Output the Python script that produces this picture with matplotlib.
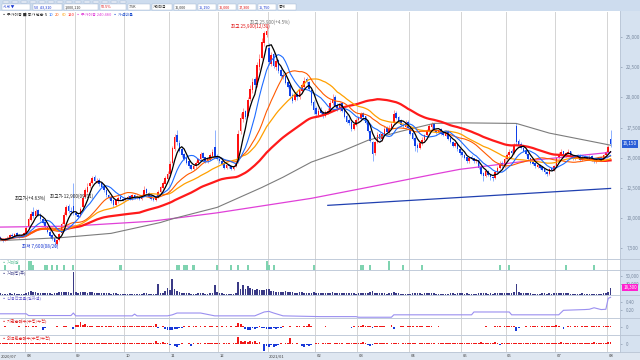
import matplotlib
matplotlib.use('Agg')
import matplotlib.pyplot as plt
from matplotlib.patches import Rectangle
import numpy as np
import pandas as pd

plt.rcParams['font.family'] = ['Noto Sans CJK KR', 'DejaVu Sans']

# ---------------- data ----------------
month_start = [11, 32, 53, 72, 93, 114, 134, 152, 174, 196, 215, 236, 258]
month_labels = ['08', '09', '10', '11', '12', '2021/01', '02', '03', '04', '05', '06', '07', '08']
first_label = '2020/07'

opens = [8450, 8300, 8150, 8250, 8400, 8650, 8550, 8750, 8650, 8500, 8600,
 8800, 9250, 9850, 10500, 10200, 10650, 10300, 9950, 9650, 9350,
 8900, 8600, 8350, 7900, 8200, 8750, 9500, 10300, 11000, 10600, 11000,
 10400, 10300, 10150, 10900, 11800, 12200, 12700, 12900, 13400, 13000, 13200, 12900, 12700, 12300, 11900, 11800, 11500, 11100, 11400, 11750, 11600,
 11500, 11650, 11850, 11600, 11950, 11700, 11850, 11600, 11900, 12400, 12100, 11850, 11650, 11500, 11700, 12150, 12500, 12850, 13250,
 13700, 14600, 15700, 16900, 16200, 15700, 15300, 15000, 14700, 14400, 14100, 14300, 14600, 14900, 15400, 15050, 14700, 14850, 15150, 15900, 15100,
 14900, 14750, 14550, 14200, 14450, 14350, 14100, 14300, 14700, 17200, 18200, 18900, 18500, 19900, 20600, 21500, 21000, 22500, 23300, 24500, 25200,
 24100, 22800, 23600, 22500, 23100, 22300, 21900, 21800, 21300, 21000, 20200, 19800, 20300, 20000, 20500, 20900, 21500, 21300, 20600, 19600,
 19100, 18550, 19000, 18750, 18450, 18800, 18900, 19500, 20000, 19350, 19050, 19500, 18950, 18450, 18100, 17950, 17400, 17750,
 18100, 18250, 18700, 18450, 17950, 17200, 16300, 15400, 16300, 16950, 16550, 17000, 17450, 17100, 17500, 17900, 18700, 18350, 18050, 17750, 17550, 17950,
 17450, 17050, 16650, 16050, 15800, 16200, 16500, 16900, 17200, 17550, 17850, 17300, 17100, 17350, 17050, 16850, 17150, 16650, 16350, 15950, 16250, 15750,
 15450, 15250, 15050, 14700, 15050, 14950, 14700, 14850, 14250, 13750, 13500, 13950, 13650, 13450, 13300, 13800, 14200, 14550, 14300,
 14900, 15200, 15550, 15400, 17600, 16400, 16150, 15850, 15650, 15350, 14950, 14650, 14550, 14250, 14450, 14250, 14050, 13850, 13700, 14150, 14000,
 14350, 15050, 15300, 15550, 15200, 15400, 15550, 15150, 14900, 15000, 15250, 14800, 15150, 15050, 14900, 15150, 14850, 14700, 14900, 15050, 14800, 15250, 15500, 16600]

highs = [8550, 8400, 8350, 8500, 8700, 8750, 8800, 8850, 8700, 8700, 8900,
 9350, 10100, 10600, 10900, 10800, 10750, 10400, 10050, 9750, 9400,
 9000, 8700, 8400, 8300, 8800, 9700, 10500, 11100, 11200, 10900, 12900,
 10600, 10450, 10900, 11900, 12500, 12900, 13100, 13500, 13600, 13300, 13300, 13000, 12800, 12400, 12000, 11900, 11600, 11600, 11850, 11900, 11700,
 11800, 11900, 11900, 12000, 12000, 11900, 11900, 12000, 12700, 12500, 12200, 11900, 11700, 11800, 12300, 12700, 13100, 13500, 13900,
 14700, 16000, 17000, 17300, 16500, 15900, 15400, 15100, 14800, 14500, 14500, 14700, 15000, 15500, 15500, 15100, 15000, 15400, 15700, 17300, 15300,
 15000, 14800, 14600, 14500, 14500, 14400, 14400, 14700, 17300, 18700, 19100, 19000, 20000, 21000, 21600, 21700, 22900, 23600, 24900, 25500, 25900,
 24500, 23800, 23800, 23300, 23200, 22500, 22100, 21900, 21500, 21100, 20400, 20400, 20500, 20800, 21200, 21700, 21700, 21400, 20700, 19800,
 19300, 19100, 19200, 18900, 19000, 19100, 19800, 20300, 20200, 19500, 19600, 19600, 19100, 18600, 18300, 18100, 17900, 18300,
 18500, 18800, 18800, 18500, 18100, 17300, 16400, 16400, 17100, 17100, 17100, 17600, 17600, 17700, 18000, 19000, 18900, 18500, 18200, 17900, 18100, 18100,
 17600, 17200, 16800, 16200, 16300, 16700, 17000, 17400, 17800, 18000, 17900, 17400, 17400, 17500, 17200, 17200, 17300, 16800, 16400, 16300, 16300, 15800,
 15600, 15300, 15100, 15100, 15200, 15000, 14900, 14900, 14300, 13800, 14000, 14000, 13700, 13500, 13900, 14300, 14700, 14700, 15100,
 15400, 15700, 15700, 16200, 17900, 16600, 16300, 15900, 15700, 15400, 15000, 14700, 14600, 14500, 14500, 14300, 14100, 13900, 14200, 14200, 14400,
 15100, 15500, 15700, 15600, 15500, 15700, 15600, 15200, 15100, 15300, 15300, 15200, 15200, 15100, 15200, 15200, 14900, 15000, 15100, 15100, 15300, 15600, 16100, 17300]

lows = [8250, 8050, 8100, 8200, 8350, 8450, 8500, 8600, 8400, 8450, 8550,
 8750, 9150, 9800, 10050, 10100, 10200, 9800, 9500, 9200, 8800,
 8400, 8200, 7600, 7800, 8150, 8700, 9400, 10200, 10400, 10300, 10300,
 10200, 10000, 10100, 10800, 11700, 12100, 12500, 12800, 13000, 12900, 12700, 12500, 12200, 11800, 11600, 11300, 10900, 11000, 11300, 11500, 11400,
 11400, 11550, 11500, 11500, 11600, 11600, 11500, 11550, 11850, 12000, 11700, 11500, 11400, 11450, 11650, 12100, 12400, 12800, 13200,
 13600, 14500, 15600, 16100, 15500, 15100, 14800, 14500, 14200, 14000, 14000, 14200, 14500, 14800, 14900, 14600, 14600, 14800, 15100, 15000, 14800,
 14600, 14400, 14100, 14100, 14200, 14000, 14000, 14250, 14600, 17000, 18000, 18200, 18400, 19700, 20400, 20800, 20900, 22300, 23200, 24300, 25000,
 22700, 22600, 22400, 22300, 22000, 21600, 21500, 21100, 20800, 20000, 19500, 19700, 19800, 19900, 20400, 20800, 21100, 20600, 19400, 18600,
 18400, 18400, 18600, 18300, 18350, 18600, 18800, 19400, 19200, 18900, 18900, 18800, 18300, 17900, 17700, 17200, 17300, 17600,
 18000, 18100, 18300, 17800, 17100, 16300, 14700, 15200, 16200, 16500, 16400, 16900, 17000, 17000, 17400, 17800, 18200, 17900, 17600, 17500, 17450, 17400,
 16900, 16500, 15600, 15500, 15700, 16100, 16400, 16800, 17100, 17400, 17200, 17000, 17000, 16900, 16800, 16800, 16500, 16200, 15900, 15900, 15600, 15200,
 15100, 14900, 14600, 14600, 14800, 14600, 14600, 14100, 13600, 13100, 13400, 13500, 13200, 13100, 13250, 13700, 14100, 14200, 14200,
 14800, 15100, 15300, 15300, 16100, 15900, 15700, 15500, 15200, 14800, 14500, 14400, 14200, 14200, 14100, 13900, 13700, 13500, 13600, 13900, 13950,
 14300, 14900, 15200, 15100, 15100, 15300, 15000, 14800, 14800, 14950, 14700, 14700, 14900, 14800, 14850, 14700, 14600, 14600, 14850, 14700, 14750, 15200, 15400, 15900]

closes = [8300, 8150, 8250, 8400, 8600, 8550, 8700, 8650, 8500, 8600, 8750,
 9200, 9900, 10350, 10200, 10600, 10300, 9900, 9600, 9300, 8900,
 8500, 8300, 8000, 8200, 8700, 9500, 10300, 10900, 10600, 10500, 10400,
 10300, 10100, 10800, 11700, 12300, 12600, 12900, 13300, 13100, 13100, 12800, 12600, 12300, 11900, 11700, 11400, 11100, 11500, 11700, 11600, 11500,
 11700, 11800, 11600, 11900, 11700, 11800, 11600, 11900, 12300, 12100, 11800, 11600, 11500, 11700, 12200, 12600, 12900, 13300, 13700,
 14500, 15800, 16700, 16300, 15600, 15200, 14900, 14600, 14300, 14100, 14300, 14600, 14900, 15300, 15000, 14700, 14900, 15200, 15500, 15100, 14900,
 14700, 14500, 14200, 14400, 14300, 14100, 14300, 14600, 17000, 18300, 18800, 18400, 19800, 20700, 21300, 21000, 22700, 23200, 24600, 25300, 25500,
 22900, 23500, 22600, 23000, 22200, 21800, 21700, 21200, 20900, 20100, 19700, 20200, 20000, 20600, 21000, 21400, 21300, 20700, 19500, 19000,
 18600, 18900, 18700, 18500, 18800, 18900, 19500, 19900, 19300, 19100, 19400, 18900, 18400, 18000, 17900, 17400, 17800, 18100,
 18300, 18600, 18400, 17900, 17200, 16400, 15300, 16300, 16900, 16600, 17000, 17400, 17100, 17500, 17800, 18600, 18300, 18000, 17700, 17600, 17900, 17500,
 17000, 16600, 16000, 15800, 16200, 16500, 16900, 17200, 17600, 17800, 17300, 17100, 17300, 17000, 16900, 17100, 16600, 16300, 16000, 16200, 15700, 15400,
 15200, 15000, 14700, 15000, 14900, 14700, 14800, 14200, 13700, 13500, 13900, 13600, 13400, 13300, 13800, 14200, 14500, 14300, 14900,
 15200, 15500, 15400, 16000, 16300, 16100, 15800, 15600, 15300, 14900, 14600, 14500, 14300, 14400, 14200, 14000, 13800, 13700, 14100, 14000, 14300,
 15000, 15300, 15500, 15200, 15400, 15500, 15100, 14900, 15000, 15200, 14800, 15100, 15000, 14900, 15100, 14800, 14700, 14900, 15000, 14800, 15200, 15500, 15900, 16150]

# long moving averages (index, value)
ma120_idx = [0, 26, 47, 68, 73, 92, 111, 120, 132, 145, 156, 170, 184, 195, 219, 233, 246, 259]
ma120_val = [8150, 8400, 8750, 9650, 9950, 10900, 12550, 13400, 14650, 15550, 16450, 17200, 17850, 17900, 17850, 17050, 16550, 16050]
ma240_idx = [0, 30, 64, 92, 132, 156, 184, 195, 226, 259]
ma240_val = [9270, 9350, 9750, 10450, 11650, 12560, 13640, 14050, 14800, 15460]
trend_idx = [139, 259]
trend_val = [11070, 12470]

volumes = [3000, 2500, 2000, 2200, 3000, 2500, 2800, 2000, 1800, 2200, 2600,
 5000, 7000, 9000, 8000, 6500, 5000, 4000, 4500, 5000, 3500,
 3000, 2500, 4000, 4500, 5500, 7000, 6500, 8000, 6000, 5000, 61000,
 8000, 5000, 6500, 8000, 7500, 5000, 6000, 5500, 4500, 4000, 3500, 3000, 2800, 3500, 3000, 2500, 3000, 2800, 2500, 2200, 2000,
 2000, 1800, 2200, 2500, 2000, 1800, 2000, 2500, 3500, 3000, 2500, 2000, 1800, 2200, 28600, 4500, 5000, 9000, 18000,
 12000, 41600, 15000, 9000, 7000, 5000, 4000, 3500, 3000, 2500, 2200, 2500, 2800, 3500, 3000, 2500, 2200, 2800, 4000, 26000, 6000,
 4000, 3000, 2500, 2200, 2500, 2000, 2200, 3000, 33000, 15000, 25000, 14000, 22000, 18000, 16000, 12000, 14000, 13000, 12000, 11000, 15000,
 14000, 10000, 9000, 8000, 7000, 6500, 6000, 9000, 5500, 7000, 6000, 5000, 4500, 6000, 7500, 5000, 4500, 4000, 5000, 6000,
 4000, 3500, 4000, 3000, 3500, 3200, 5000, 6000, 4000, 3500, 3000, 3500, 4000, 3000, 2800, 4500, 3000, 2500,
 2800, 3000, 3500, 3000, 4000, 6000, 9000, 5000, 3500, 3000, 2800, 3000, 2500, 3000, 4000, 7000, 4500, 3000, 2500, 2200, 2500, 2000,
 2500, 3000, 4000, 3500, 3000, 2500, 2800, 3000, 4500, 4000, 3500, 2500, 2500, 2200, 2000, 2200, 2500, 2800, 3000, 2500, 3000, 3500,
 3000, 2500, 3000, 2500, 2200, 2000, 2500, 3000, 4000, 3500, 3000, 2500, 2800, 2500, 3000, 3500, 4000, 3000, 4500,
 5000, 4000, 3500, 6000, 27800, 8000, 5000, 4000, 3500, 3000, 2800, 2500, 2200, 2000, 2500, 3000, 3500, 2500, 3000, 2500, 3500,
 5000, 4000, 3500, 3000, 2800, 3000, 2500, 2200, 2000, 2200, 2500, 2800, 2200, 2000, 1800, 2000, 2200, 2000, 2500, 2200, 3500, 4500, 6000, 18300]

sig_idx = [2, 8, 12, 13, 14, 19, 20, 22, 24, 27, 31, 51, 75, 76, 78, 79, 82, 92, 98, 101, 105, 113, 114,
           116, 133, 153, 154, 157, 165, 171, 179, 212, 216, 240, 252]
sig_val = [1, 1, 2, 2, 1, 1, 1, 1, 1, 1, 1, 1, 1, 1, 1, 1, 1, 1, 1, 1, 1, 2, 1,
           1, 1, 1, 1, 1, 2, 1, 1, 1, 1, 1, 1]

credit_idx = [0, 11, 12, 30, 31, 32, 56, 57, 58, 71, 73, 75, 85, 91, 108, 112, 114, 116, 120, 136,
              151, 152, 166, 167, 200, 201, 216, 217, 237, 239, 248, 250, 252, 255, 257, 258, 259]
credit_val = [0.09, 0.09, 0.044, 0.044, 0.11, 0.036, 0.036, 0.082, 0.036, 0.036, 0.063, 0.11, 0.11, 0.036,
              0.036, 0.137, 0.153, 0.11, 0.036, 0.016, 0.016, 0.0, 0.0, 0.063, 0.063, 0.137, 0.137, 0.063,
              0.063, 0.181, 0.20, 0.208, 0.247, 0.20, 0.208, 0.493, 0.52]

inst_net = [-0.5, -0.4, 0.3, -0.3, -0.6, 0.2, -0.4, -0.3, 0.3, -0.5, -0.4,
 0.4, 0.5, -0.3, 0.3, 0.4, -0.6, -0.4, -4.0, -1.0, -0.5,
 -0.8, -0.6, -0.5, 0.3, -0.4, -0.5, 0.6, 0.5, -0.6, -0.8, -2.7,
 1.7, 1.5, 5.0, 2.0, 3.3, 1.0, 0.8, 0.6, -0.5, 0.5, 0.6, 0.4, -0.4, 0.5, 0.6, 0.5, 0.4, -0.3, 0.6, 0.5, 0.4,
 0.5, 0.4, 0.6, 0.5, 0.3, 0.6, 0.5, 0.4, 0.7, 0.5, 0.6, 0.4, 0.5, 3.3, -1.0, -0.5, 0.6, -2.0, -3.0,
 -4.0, -3.5, -2.5, -2.0, -1.5, -1.0, 0.4, -0.5, 0.5, -0.4, 0.3, 0.5, -0.4, 0.4, -0.5, 0.5, -0.4, 0.3, 0.5, -0.6, 0.4,
 -0.5, 0.4, -0.4, 0.5, -0.3, 0.4, -0.4, 0.6, 4.3, 3.0, 1.0, -2.0, -4.0, -3.5, -1.5, -2.0, -1.0, 0.5, -1.5, -1.0, -2.0,
 -2.0, -2.5, -1.5, -2.0, -1.0, -1.5, 0.5, -0.6, -0.8, 0.5, -0.7, -0.5, 0.6, 0.5, -0.6, 0.5, 0.6, 2.7, 0.8, -0.5,
 -0.6, -0.5, -0.8, -0.6, 0.5, -0.7, -0.6, -0.5, -0.8, -0.6, -0.5, -0.6, -0.5, -0.7, -0.8, -1.5, 0.6, -0.5,
 0.5, 0.8, 1.7, 1.0, 0.6, 0.7, -1.5, 0.6, 0.5, 0.4, 0.5, 0.6, -0.5, -0.4, 1.7, -2.3, -0.6, -0.5, 0.4, 0.5, -0.4, 0.5,
 0.6, 0.5, -0.5, 0.4, 0.5, 0.3, -0.5, 0.4, 0.6, 0.5, -0.6, -0.5, 0.4, -0.5, -0.6, -0.4, -0.5, -0.6, -0.5, -0.4, -0.7, -0.6,
 -0.5, -0.6, -0.4, -0.5, -0.6, -0.7, -0.5, -0.4, -0.6, -0.5, 0.4, -0.5, -0.6, -0.4, 0.5, 0.6, 0.5, -0.4, 0.6,
 0.5, 0.4, 0.6, 0.5, -5.0, -1.5, -0.6, -0.5, 0.4, -0.5, 0.6, 0.5, 0.4, 0.5, -0.4, 0.6, 0.5, 0.4, 0.6, 0.5, 1.2,
 1.7, 0.6, -0.5, -2.0, -0.6, 0.5, 0.4, -0.5, 0.5, 0.4, -0.4, 0.6, 0.5, 0.4, -0.5, 0.6, 0.5, 0.4, 0.5, -0.4, 0.6, 0.5, 0.6, 0.8]

frgn_net = [0.5, 0.6, 0.4, 0.7, 0.5, 0.6, 0.5, 0.4, 0.6, 0.5, 0.7,
 0.6, 0.8, 0.5, 0.6, 0.4, 0.5, 0.6, 0.5, 0.7, 0.6,
 0.5, 0.6, 0.4, 0.5, 0.6, 0.7, 0.5, 0.6, 0.4, 0.5, -0.6,
 0.6, 0.5, 0.7, 0.6, 0.5, 0.6, 0.4, 0.5, 0.6, 0.5, 0.4, 0.6, 0.5, 0.7, 0.5, 0.6, 0.4, 0.5, 0.6, 0.5, 0.4,
 0.5, 0.6, 0.4, 0.5, 0.6, 0.5, 0.4, 0.6, 0.5, 0.7, 0.5, 0.6, 1.2, 3.3, 1.0, 0.8, 1.7, 1.0, 0.5,
 -1.5, -0.8, -2.0, -4.0, -1.5, 0.5, -0.6, -0.5, 0.6, -2.3, 0.5, -0.4, 0.6, 0.5, -0.5, 0.4, 0.6, 0.5, 0.4, 0.6, 0.5,
 0.5, -0.4, 0.6, 0.5, 0.4, -0.5, 0.6, 0.5, 7.3, 2.5, 1.5, 3.0, 2.0, 2.5, 1.8, 3.0, 1.0, 1.5, -0.5, -7.7, -2.0,
 -3.0, -1.5, -4.0, -2.5, -1.0, 0.5, -0.6, 0.4, 0.5, 6.0, 1.0, -0.5, 0.5, -0.6, -2.5, -3.0, -1.5, -2.0, -1.0, -0.5,
 0.4, 0.5, -0.4, 0.6, 0.5, 0.4, 0.6, -0.5, 0.5, 0.4, 0.6, 0.5, -0.4, 0.5, 0.6, 0.4, 0.5, 0.6,
 0.5, 0.4, 1.5, 0.8, -1.5, -2.0, -1.5, 0.5, 0.6, 0.4, 0.5, 0.6, 0.4, -0.5, 0.5, 0.6, 0.4, 0.5, -0.4, 0.6, 0.5, 0.4,
 0.5, 0.6, 0.4, -0.5, 0.5, 0.4, 0.6, 0.5, 0.4, 0.6, 0.5, -0.4, 0.5, 0.6, 0.4, 0.5, 0.6, 0.4, 0.5, 0.6, 0.4, 0.5,
 0.6, 0.5, 0.4, 0.6, 0.5, 0.4, 0.6, 0.5, 1.7, 0.6, 0.5, 0.4, 0.6, 0.5, 1.7, 0.6, -1.2, 0.5, 0.4,
 0.6, 0.5, 0.4, 0.6, 0.5, 0.4, 0.6, 0.5, 0.4, 0.6, 0.5, 0.4, 0.6, 0.5, 0.4, 0.6, 0.5, 0.4, 0.6, 0.5, 0.4,
 0.5, 0.6, 1.7, 0.5, 0.4, 0.6, 0.5, 0.4, 0.6, 0.5, 0.4, 0.6, 0.5, 0.4, 0.6, 0.5, 1.7, 0.5, 0.6, 0.4, 0.5, 0.6, 1.7, 1.7]

price_ticks = [7500, 10000, 12500, 15000, 17500, 20000, 22500, 25000]

n = len(closes)
assert len(opens) == n and len(highs) == n and len(lows) == n
assert len(volumes) == n and len(inst_net) == n and len(frgn_net) == n

# ---------------- layout helpers ----------------
W, H = 640, 360
fig = plt.figure(figsize=(6.4, 3.6), dpi=100)
fig.patch.set_facecolor('white')
renderer = fig.canvas.get_renderer()

def ax_px(x0, y0, x1, y1):
    return fig.add_axes([x0 / W, 1 - y1 / H, (x1 - x0) / W, (y1 - y0) / H])

def ft(x, y, s, **kw):
    kw.setdefault('fontsize', 3.6)
    kw.setdefault('va', 'center')
    kw.setdefault('ha', 'left')
    return fig.text(x / W, 1 - y / H, s, **kw)

def seq_text(x, y, parts, fs=3.0, gap=1.8):
    cx = x
    for s, col in parts:
        t = ft(cx, y, s, color=col, fontsize=fs)
        bb = t.get_window_extent(renderer=renderer)
        cx = bb.x1 + gap
    return cx

def frect(x0, y0, x1, y1, **kw):
    fig.patches.append(Rectangle((x0 / W, 1 - y1 / H), (x1 - x0) / W, (y1 - y0) / H,
                                 transform=fig.transFigure, figure=fig, **kw))

XL = (-0.13, 263.0)
GRID = '#d4d4d4'

def base_axes(a):
    a.set_xlim(*XL)
    for s in a.spines.values():
        s.set_visible(False)
    a.tick_params(axis='x', which='both', length=0, labelbottom=False)
    for m in month_start:
        a.axvline(m - 0.5, color=GRID, lw=0.7, zorder=0)

# ---------------- background bands ----------------
frect(620, 11, 640, 352, facecolor='#d6e2f0', edgecolor='none', zorder=-5)
frect(0, 0, 640, 11, facecolor='#cddcee', edgecolor='none', zorder=-5)
frect(0, 352, 640, 360, facecolor='#dfe7f1', edgecolor='none', zorder=-5)

# ---------------- main price panel ----------------
ax = ax_px(0, 11.5, 620, 258.5)
base_axes(ax)
ax.set_ylim(6670, 27115)
ax.yaxis.tick_right()
ax.set_yticks(price_ticks)
ax.set_yticklabels([f'{v:,}' for v in price_ticks])
ax.tick_params(axis='y', length=1.5, width=0.4, colors='#7a8aa0', labelsize=3.4, pad=3)

x = np.arange(n)
o = np.array(opens, float); h = np.array(highs, float)
l = np.array(lows, float); c = np.array(closes, float)
up = c >= o
bb = np.minimum(o, c)
bh = np.maximum(np.abs(c - o), 45)
ax.vlines(x[up], l[up], h[up], color='#ff7a7a', lw=0.55, zorder=2)
ax.vlines(x[~up], l[~up], h[~up], color='#6f9dff', lw=0.55, zorder=2)
ax.bar(x[up], bh[up], bottom=bb[up], width=0.68, color='#ff1010', linewidth=0, zorder=3)
ax.bar(x[~up], bh[~up], bottom=bb[~up], width=0.68, color='#1040e8', linewidth=0, zorder=3)

cs = pd.Series(c)
ma = {p: cs.rolling(p, min_periods=1).mean().values for p in (5, 10, 20, 30, 60)}
ax.plot(ma240_idx, ma240_val, color='#e040d8', lw=0.9, zorder=4)
ax.plot(ma120_idx, ma120_val, color='#7c7c7c', lw=0.8, zorder=4)
ax.plot(x, ma[60], color='#ff1a1a', lw=1.6, zorder=4)
ax.plot(x, ma[30], color='#ffa000', lw=0.9, zorder=5)
ax.plot(x, ma[20], color='#ff5a00', lw=0.8, zorder=5)
ax.plot(x, ma[10], color='#1e6cff', lw=0.8, zorder=6)
ax.plot(x, ma[5], color='#000000', lw=0.9, zorder=7)
ax.plot(trend_idx, trend_val, color='#2040b0', lw=0.9, zorder=4)

# annotations
def tx(i, p, s, **kw):
    kw.setdefault('fontsize', 3.3)
    ax.text(i, p, s, **kw)
tx(6, 11500, '최고가(+4.63%)', color='#202020')
tx(21, 11700, '최고가 12,900(09/01)', color='#202020')
tx(9, 7550, '최저 7,600(08/20)', color='#1030d0')
tx(98, 25750, '최고 25,900(12/30)', color='#e01010')
tx(106, 26100, '최고 25,900(+4.5%)', color='#707070')

# current price label
ax.text(1.005, (c[-1] - 6670) / (27115 - 6670), f'{int(c[-1]):,}', transform=ax.transAxes,
        fontsize=3.4, color='white', va='center', ha='left',
        bbox=dict(boxstyle='square,pad=0.25', fc='#2a5fd8', ec='none'), zorder=10)

# ---------------- panel A: signals ----------------
axa = ax_px(0, 259, 620, 269.5)
base_axes(axa)
axa.set_ylim(0, 2.5)
axa.set_yticks([])
axa.bar(sig_idx, sig_val, width=0.9, color='#7fd3b0', linewidth=0)

# ---------------- panel B: volume ----------------
axb = ax_px(0, 270, 620, 294.5)
base_axes(axb)
axb.set_ylim(0, 67000)
axb.bar(x, volumes, width=0.7, color='#3a3a86', linewidth=0)
axb.yaxis.tick_right()
axb.set_yticks([30000, 50000])
axb.set_yticklabels(['30,000', '50,000'])
axb.tick_params(axis='y', length=1.5, width=0.4, colors='#7a8aa0', labelsize=3.2, pad=3)
axb.text(1.005, volumes[-1] / 67000, f'{volumes[-1]:,}', transform=axb.transAxes,
         fontsize=3.2, color='white', va='center', ha='left',
         bbox=dict(boxstyle='square,pad=0.2', fc='#ff20d0', ec='none'))

# ---------------- panel C: credit ratio line ----------------
axc = ax_px(0, 295, 620, 318)
base_axes(axc)
axc.set_ylim(-0.02, 0.58)
axc.plot(credit_idx, credit_val, color='#9a8ff0', lw=0.8)
axc.yaxis.tick_right()
axc.set_yticks([0.2, 0.4])
axc.set_yticklabels(['0.20', '0.40'])
axc.tick_params(axis='y', length=1.5, width=0.4, colors='#7a8aa0', labelsize=3.2, pad=3)

# ---------------- panel D / E: net buying ----------------
for (y0, y1, vals) in ((318.5, 335, inst_net), (335.5, 352, frgn_net)):
    a = ax_px(0, y0, 620, y1)
    base_axes(a)
    a.set_ylim(-9, 9)
    v = np.array(vals)
    a.bar(x[v >= 0], v[v >= 0], width=0.75, color='#f01818', linewidth=0)
    a.bar(x[v < 0], v[v < 0], width=0.75, color='#1838d8', linewidth=0)
    a.yaxis.tick_right()
    a.set_yticks([0])
    a.set_yticklabels(['0'])
    a.tick_params(axis='y', length=1.5, width=0.4, colors='#7a8aa0', labelsize=3.2, pad=3)

# panel separators
for yy in (258.7, 269.7, 294.8, 318.2, 335.2, 352.2):
    fig.add_artist(plt.Line2D([0, 1], [1 - yy / H] * 2, color='#b8c4d4', lw=0.6,
                              transform=fig.transFigure))
fig.add_artist(plt.Line2D([620 / W] * 2, [1 - 352 / H, 1 - 11 / H], color='#b8c4d4', lw=0.6,
                          transform=fig.transFigure))

# main legend row (placed one after another so they never overlap)
seq_text(2, 14.5, [('▪ 주가이동 ■ 종가 단순', '#303030'), ('5', '#000000'), ('10', '#1e6cff'),
                   ('20', '#ff5a00'), ('60', '#ffa000'), ('120', '#ff1a1a'),
                   ('▪ 주가이동 240 480', '#e040d8'), ('▪ 가격비율', '#2050d0')], fs=2.9, gap=1.6)

# panel headers
ft(2, 262, '▪ 거래원', color='#5cbf98', fontsize=3.0)
ft(2, 273, '▪ 거래량(주)', color='#3a3a86', fontsize=3.0)
ft(2, 298, '▪ 신용잔고율(일자별)', color='#6a5fd0', fontsize=3.0)
ft(2, 321, '▪ 기관순매수(수량/누적)', color='#e01818', fontsize=3.0)
ft(2, 338, '▪ 외국인순매수(수량/누적)', color='#e01818', fontsize=3.0)

# date strip labels
ft(1, 356, first_label, color='#404040', fontsize=3.0)
for m, lab in zip(month_start, month_labels):
    px = 2.356 * (m - 0.5) + 0.3
    ft(px + 1.5, 356, lab, color='#404040', fontsize=3.0)

# toolbar (approximate)
box_spans = [(2, 30), (33, 62), (64, 98), (100, 126), (128, 150), (152, 172), (174, 196),
             (198, 216), (218, 236), (238, 256), (258, 276), (278, 296)]
for (a0, a1) in box_spans:
    frect(a0, 4.2, a1, 9.8, facecolor='white', edgecolor='#9fb3cf', lw=0.3, zorder=-4)
tool_txt = ['시세 ▼', '50  43,310', '1,000,110', '50.5%', '7.5K', '거래대금',
            '16,000', '15,150', '16,000', '17,300', '15,750', '통계']
tool_col = ['#1030d0', '#1030d0', '#303030', '#e01010', '#303030', '#303030',
            '#303030', '#1030d0', '#e01010', '#e01010', '#1030d0', '#303030']
for (a0, a1), s, col in zip(box_spans, tool_txt, tool_col):
    ft(a0 + 1, 7, s, color=col, fontsize=2.7)
for k in range(14):
    frect(3 + k * 9, 0.6, 9 + k * 9, 3.4, facecolor='#eef3fa', edgecolor='#9fb3cf', lw=0.3, zorder=-4)

fig.savefig('out.png', dpi=100)
